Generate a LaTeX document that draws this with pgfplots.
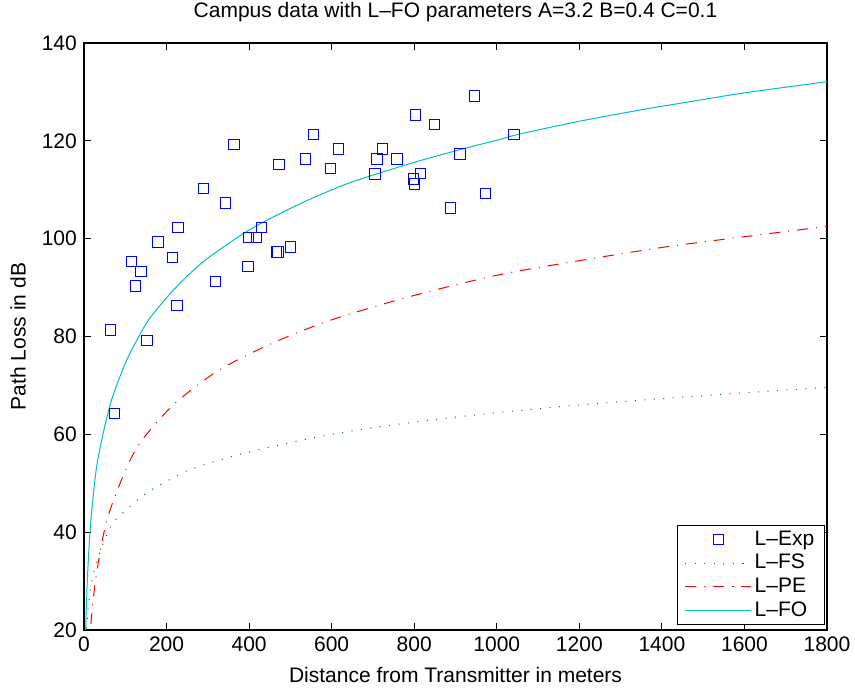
\documentclass[border=0pt]{standalone}
\usepackage{fontspec}
\setmainfont{Liberation Sans}
\usepackage{pgfplots}
\pgfplotsset{compat=1.18}
\usetikzlibrary{calc}

\definecolor{mblue}{rgb}{0,0,1}
\definecolor{mgreen}{rgb}{0,0.5,0}
\definecolor{mred}{rgb}{1,0,0}
\definecolor{mcyan}{rgb}{0,0.75,0.75}

\begin{document}
\fontsize{21}{25}\selectfont
\begin{tikzpicture}
\begin{axis}[
  width=743pt, height=587pt, scale only axis,
  xmin=0, xmax=1800, ymin=20, ymax=140,
  xtick={0,200,...,1800}, ytick={20,40,...,140},
  tick align=inside, major tick length=7pt,
  tick style={black, line width=0.8pt},
  axis line style={line width=1.2pt},
  /pgf/number format/assume math mode=true,
  /pgf/number format/1000 sep={},
  tick label style={font=\fontsize{21}{25}\selectfont},
  label style={font=\fontsize{21}{25}\selectfont},
  title style={font=\fontsize{21}{25}\selectfont, at={(axis description cs:0.5,1.034)}, anchor=base},
  title={Campus data with L–FO parameters A=3.2 B=0.4 C=0.1},
  xlabel={Distance from Transmitter in meters},
  ylabel={Path Loss in dB},
  xlabel style={at={(axis description cs:0.5,-0.0886)}, anchor=base},
  ylabel style={at={(axis description cs:-0.0888,0.5)}, anchor=center},
  legend image code/.code={\draw[mark repeat=2,mark phase=2,#1] plot coordinates {(0pt,0pt) (33pt,0pt) (66pt,0pt)};},
  legend style={at={(0.997,0.0085)}, anchor=south east, draw=black, line width=1pt,
    fill=white, font=\fontsize{21}{25}\selectfont, inner xsep=7pt, inner ysep=2pt,
    nodes={inner sep=3pt}},
  legend cell align=left,
]
% measured points
\addplot[mblue, only marks, mark=square, mark size=5.2pt, mark options={draw=mblue, line width=0.9pt}] coordinates {
  (64.6,81.3) (74.3,64.3) (115.5,95.3) (125,90.3) (138,93.3) (152.6,79.2)
  (179,99.3) (214,96.2) (225.3,86.3) (227.7,102.3) (289,110.3) (319,91.3)
  (342.4,107.3) (363.4,119.2) (397.3,94.3) (398,100.3) (417.5,100.3) (429.6,102.3)
  (466,97.3) (470,97.3) (472.4,115.2) (500.7,98.3) (537,116.3) (555.6,121.3)
  (597.6,114.3) (617,118.3) (705,113.2) (709.8,116.3) (723.5,118.3) (758.3,116.3)
  (798.6,112.2) (800.2,111.2) (803.5,125.3) (814.7,113.3) (849.5,123.3) (888.3,106.3)
  (910.9,117.3) (946.4,129.2) (972.2,109.2) (1041.7,121.3)
};
% free space
\addplot[mgreen, smooth, line width=1pt, dash pattern=on 1pt off 8.5pt] coordinates {
  (5,18.4) (7,21.3) (10,24.4) (14.5,27.7) (20,30.4) (30,33.9) (50,38.4)
  (71,42) (100,44.4) (150,47.9) (200,50.4) (263,53) (400,56.4) (600,60)
  (800,62.5) (1000,64.4) (1200,66) (1400,67.3) (1600,68.5) (1800,69.6)
};
% path loss exponent
\addplot[mred, smooth, line width=1pt, dash pattern=on 11pt off 8pt on 1pt off 8pt] coordinates {
  (12,15.5) (14,18.1) (20,24.3) (30,31.4) (51,41) (75,47.3) (111,54.6)
  (145,59.3) (220,66.3) (323,72.9) (450,78.4) (600,83.4) (800,88.4)
  (1008,92.65) (1200,95.5) (1400,98.2) (1600,100.4) (1800,102.5)
};
% fitted L-FO
\addplot[mcyan, smooth, line width=1pt] coordinates {
  (4,20) (6,25.5) (8,30) (10,33.5) (14.5,40) (20,45.5) (30,53) (44,59.3)
  (67,67.1) (100,74.5) (129,79.4) (160,83.8) (220,89.8) (289,95.3) (378,100.6)
  (426,103.0) (530,107.4) (630,111) (693,112.8) (800,115.6) (911,118.2)
  (1008,120.3) (1056,121.4) (1200,124) (1347,126.3) (1468,128) (1600,129.8)
  (1800,132.1)
};
\legend{L–Exp, L–FS, L–PE, L–FO}
\end{axis}
\pgfresetboundingbox
\path ($(current axis.south west)+(-84pt,-58pt)$) rectangle ($(current axis.north east)+(28pt,43pt)$);
\end{tikzpicture}
\end{document}
